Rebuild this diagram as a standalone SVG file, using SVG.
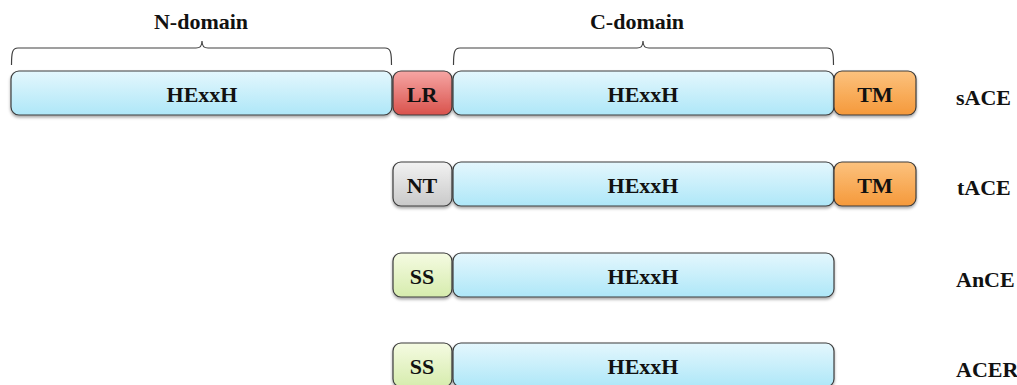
<svg xmlns="http://www.w3.org/2000/svg" width="1017" height="385" viewBox="0 0 1017 385">
  <defs>
    <linearGradient id="gBlue" x1="0" y1="0" x2="0" y2="1">
      <stop offset="0" stop-color="#e4f7fd"/>
      <stop offset="1" stop-color="#aee7f8"/>
    </linearGradient>
    <linearGradient id="gRed" x1="0" y1="0" x2="0" y2="1">
      <stop offset="0" stop-color="#f6a6a4"/>
      <stop offset="1" stop-color="#d9524c"/>
    </linearGradient>
    <linearGradient id="gOrange" x1="0" y1="0" x2="0" y2="1">
      <stop offset="0" stop-color="#fcc27e"/>
      <stop offset="1" stop-color="#f5993a"/>
    </linearGradient>
    <linearGradient id="gGray" x1="0" y1="0" x2="0" y2="1">
      <stop offset="0" stop-color="#f2f2f2"/>
      <stop offset="1" stop-color="#c9c9c9"/>
    </linearGradient>
    <linearGradient id="gGreen" x1="0" y1="0" x2="0" y2="1">
      <stop offset="0" stop-color="#f5fbe2"/>
      <stop offset="1" stop-color="#d6ecad"/>
    </linearGradient>
    <filter id="shadow" x="-5%" y="-20%" width="110%" height="150%">
      <feDropShadow dx="0" dy="2" stdDeviation="1.5" flood-color="#000" flood-opacity="0.35"/>
    </filter>
  </defs>
  <style>
    .box { stroke: #3c3c3c; stroke-width: 1.2; filter: url(#shadow); }
    .blue { fill: url(#gBlue); }
    .red { fill: url(#gRed); }
    .orange { fill: url(#gOrange); }
    .gray { fill: url(#gGray); }
    .green { fill: url(#gGreen); }
    text { font-family: "Liberation Serif", "Times New Roman", serif; font-weight: bold; font-size: 22px; fill: #111; }
    .c { text-anchor: middle; }
    .brace { fill: none; stroke: #404040; stroke-width: 1.2; }
  </style>

  <!-- domain braces -->
  <g id="braces">
    <path class="brace" d="M11.5,65 C11.5,52 12.5,48 18,48 L196,48 C200,48 202,46.5 202,41 C202,46.5 204,48 208,48 L385,48 C390.5,48 391.5,52 391.5,65"/>
    <path class="brace" d="M453.5,65 C453.5,52 454.5,48 460,48 L637,48 C641,48 643,46.5 643,41 C643,46.5 645,48 649,48 L827,48 C832.5,48 833.5,52 833.5,65"/>
    <text class="c" x="201" y="29">N-domain</text>
    <text class="c" x="637" y="29">C-domain</text>
  </g>

  <!-- sACE -->
  <g id="sACE">
    <rect class="box blue" x="11" y="71" width="381" height="44" rx="8"/>
    <text class="c" x="202" y="102">HExxH</text>
    <rect class="box red" x="393" y="71" width="59" height="44" rx="8"/>
    <text class="c" x="422" y="102">LR</text>
    <rect class="box blue" x="453" y="71" width="381" height="44" rx="8"/>
    <text class="c" x="643" y="102">HExxH</text>
    <rect class="box orange" x="834" y="71" width="82" height="44" rx="8"/>
    <text class="c" x="875" y="102">TM</text>
    <text x="956" y="105">sACE</text>
  </g>

  <!-- tACE -->
  <g id="tACE">
    <rect class="box gray" x="393" y="162" width="59" height="44" rx="8"/>
    <text class="c" x="422" y="193">NT</text>
    <rect class="box blue" x="453" y="162" width="381" height="44" rx="8"/>
    <text class="c" x="643" y="193">HExxH</text>
    <rect class="box orange" x="834" y="162" width="82" height="44" rx="8"/>
    <text class="c" x="875" y="193">TM</text>
    <text x="957" y="195">tACE</text>
  </g>

  <!-- AnCE -->
  <g id="AnCE">
    <rect class="box green" x="393" y="253" width="59" height="44" rx="8"/>
    <text class="c" x="422" y="284">SS</text>
    <rect class="box blue" x="453" y="253" width="381" height="44" rx="8"/>
    <text class="c" x="643" y="284">HExxH</text>
    <text x="956" y="287">AnCE</text>
  </g>

  <!-- ACER -->
  <g id="ACER">
    <rect class="box green" x="393" y="343" width="59" height="44" rx="8"/>
    <text class="c" x="422" y="374">SS</text>
    <rect class="box blue" x="453" y="343" width="381" height="44" rx="8"/>
    <text class="c" x="643" y="374">HExxH</text>
    <text x="956" y="377">ACER</text>
  </g>
</svg>
